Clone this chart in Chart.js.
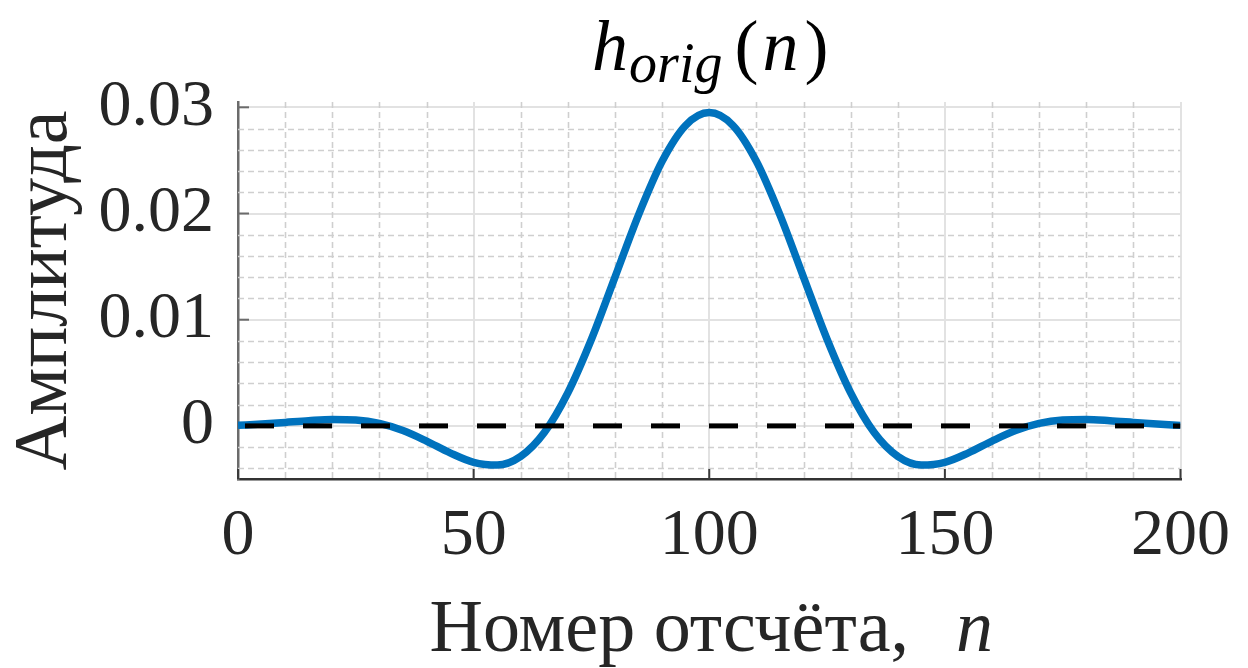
<!DOCTYPE html>
<html lang="ru">
<head>
<meta charset="utf-8">
<title>h_orig(n)</title>
<script src="https://cdn.jsdelivr.net/npm/chart.js@4.4.1/dist/chart.umd.min.js"></script>
<style>
  html, body { margin: 0; padding: 0; background: #fff; }
  #wrap { width: 1248px; height: 668px; }
</style>
</head>
<body>
<div id="wrap"><canvas id="impulseChart" width="1248" height="668"></canvas></div>
<script>
// Impulse response h_orig(n), sampled every 5th index
const sampleN = [0, 5, 10, 15, 20, 25, 30, 35, 40, 45, 50, 55, 60, 65, 70, 75, 80, 85, 90, 95,
                 100, 105, 110, 115, 120, 125, 130, 135, 140, 145, 150, 155, 160, 165, 170, 175, 180, 185, 190, 195, 200];
const hOrig = [0.00005, 0.00017, 0.00033, 0.00049, 0.00060, 0.00055, 0.00023, -0.00044, -0.00143, -0.00254,
               -0.00343, -0.00369, -0.00287, -0.00063, 0.00312, 0.00816, 0.01401, 0.01987, 0.02491, 0.02830,
               0.02950,
               0.02830, 0.02491, 0.01987, 0.01401, 0.00816, 0.00312, -0.00063, -0.00287, -0.00369, -0.00343,
               -0.00254, -0.00143, -0.00044, 0.00023, 0.00055, 0.00060, 0.00049, 0.00033, 0.00017, 0.00005];

// Dashed zero reference line
const zeroLineN = [0, 200];
const zeroLineY = [0, 0];

// Axes
const xRange = [0, 200];
const yRange = [-0.005, 0.0305];
const xTickValues = [0, 50, 100, 150, 200];
const xTickLabels = ['0', '50', '100', '150', '200'];
const yTickValues = [0, 0.01, 0.02, 0.03];
const yTickLabels = ['0', '0.01', '0.02', '0.03'];
const xMinorValues = [10, 20, 30, 40, 60, 70, 80, 90, 110, 120, 130, 140, 160, 170, 180, 190];
const yMinorValues = [-0.004, -0.002, 0.002, 0.004, 0.006, 0.008, 0.012, 0.014, 0.016, 0.018,
                      0.022, 0.024, 0.026, 0.028];

const SERIF = '"Liberation Serif", "DejaVu Serif", serif';
const TEXT_COLOR = '#262626';

// Draws a run of text pieces with different fonts, centred on cx
function drawMixedText(ctx, parts, cx, baseline) {
    let total = 0;
    parts.forEach(p => {
        ctx.font = p.font;
        p.w = ctx.measureText(p.text).width;
        total += p.w + (p.gap || 0);
    });
    let x = cx - total / 2;
    ctx.textBaseline = 'alphabetic';
    ctx.textAlign = 'left';
    parts.forEach(p => {
        ctx.font = p.font;
        ctx.fillText(p.text, x, baseline + (p.dy || 0));
        x += p.w + (p.gap || 0);
    });
}

// Minor dashed grid, inward tick marks, title and x label
const axisDecor = {
    id: 'axisDecor',
    beforeDatasetsDraw(chart) {
        const { ctx, chartArea: a, scales: { x, y } } = chart;
        ctx.save();
        ctx.beginPath();
        ctx.rect(a.left, a.top, a.right - a.left, a.bottom - a.top);
        ctx.clip();
        ctx.strokeStyle = '#cfcfcf';
        ctx.lineWidth = 1.6;
        ctx.setLineDash([6, 4]);
        xMinorValues.forEach(v => {
            const px = Math.round(x.getPixelForValue(v)) + 0.5;
            ctx.beginPath();
            ctx.moveTo(px, a.top);
            ctx.lineTo(px, a.bottom);
            ctx.stroke();
        });
        yMinorValues.forEach(v => {
            const py = Math.round(y.getPixelForValue(v)) + 0.5;
            ctx.beginPath();
            ctx.moveTo(a.left, py);
            ctx.lineTo(a.right, py);
            ctx.stroke();
        });
        ctx.restore();

        // inward ticks
        ctx.save();
        ctx.strokeStyle = '#3a3a3a';
        ctx.lineWidth = 2;
        xTickValues.forEach(v => {
            const px = x.getPixelForValue(v);
            ctx.beginPath();
            ctx.moveTo(px, a.bottom);
            ctx.lineTo(px, a.bottom - 10);
            ctx.stroke();
        });
        ctx.strokeStyle = '#6b6b6b';
        yTickValues.forEach(v => {
            const py = y.getPixelForValue(v);
            ctx.beginPath();
            ctx.moveTo(a.left, py);
            ctx.lineTo(a.left + 11, py);
            ctx.stroke();
        });
        ctx.restore();
    },
    afterDraw(chart) {
        const { ctx, chartArea: a } = chart;
        const cx = (a.left + a.right) / 2;
        ctx.save();
        ctx.fillStyle = '#000';
        drawMixedText(ctx, [
            { text: 'h', font: 'italic 72px ' + SERIF, gap: 1 },
            { text: 'orig', font: 'italic 56px ' + SERIF, dy: 12, gap: 12 },
            { text: '(', font: '72px ' + SERIF, gap: 4 },
            { text: 'n', font: 'italic 72px ' + SERIF, gap: 6 },
            { text: ')', font: '72px ' + SERIF }
        ], cx + 1, 70);

        ctx.fillStyle = TEXT_COLOR;
        drawMixedText(ctx, [
            { text: 'Номер отсчёта,', font: '74px ' + SERIF, gap: 47 },
            { text: 'n', font: 'italic 74px ' + SERIF }
        ], cx + 2, 651);
        ctx.restore();
    }
};

const ctx = document.getElementById('impulseChart');

new Chart(ctx, {
    type: 'line',
    data: {
        datasets: [
            {
                label: '0',
                data: zeroLineN.map((n, i) => ({ x: n, y: zeroLineY[i] })),
                borderColor: '#000000',
                borderWidth: 5,
                borderDash: [29, 29],
                borderDashOffset: 51,
                pointRadius: 0,
                order: 0
            },
            {
                label: 'h_orig(n)',
                data: sampleN.map((n, i) => ({ x: n, y: hOrig[i] })),
                borderColor: '#0072BD',
                borderWidth: 7.5,
                pointRadius: 0,
                cubicInterpolationMode: 'monotone',
                order: 1
            }
        ]
    },
    options: {
        responsive: false,
        animation: false,
        devicePixelRatio: 1,
        layout: {
            padding: { top: 102, right: 58, left: 0, bottom: 0 }
        },
        plugins: {
            legend: { display: false },
            tooltip: { enabled: false },
            title: { display: false }
        },
        scales: {
            x: {
                type: 'linear',
                min: xRange[0],
                max: xRange[1],
                afterBuildTicks: s => { s.ticks = xTickValues.map(v => ({ value: v })); },
                afterFit: s => { s.height = 189; },
                ticks: {
                    callback: (v, i) => xTickLabels[i],
                    font: { family: SERIF, size: 66 },
                    color: TEXT_COLOR,
                    padding: 18,
                    maxRotation: 0,
                    autoSkip: false
                },
                grid: { color: '#e2e2e2', lineWidth: 2, drawTicks: false },
                border: { display: true, color: '#333333', width: 2.5 }
            },
            y: {
                type: 'linear',
                min: yRange[0],
                max: yRange[1],
                afterBuildTicks: s => { s.ticks = yTickValues.map(v => ({ value: v })); },
                afterFit: s => { s.width = 238; },
                ticks: {
                    callback: (v, i) => yTickLabels[i],
                    font: { family: SERIF, size: 66 },
                    color: TEXT_COLOR,
                    padding: 24,
                    autoSkip: false
                },
                grid: { color: '#e2e2e2', lineWidth: 2, drawTicks: false },
                border: { display: true, color: '#6b6b6b', width: 2.5 },
                title: {
                    display: true,
                    text: 'Амплитуда',
                    font: { family: SERIF, size: 76 },
                    color: TEXT_COLOR,
                    padding: { top: 0, bottom: 0 }
                }
            }
        }
    },
    plugins: [axisDecor]
});
</script>
</body>
</html>
